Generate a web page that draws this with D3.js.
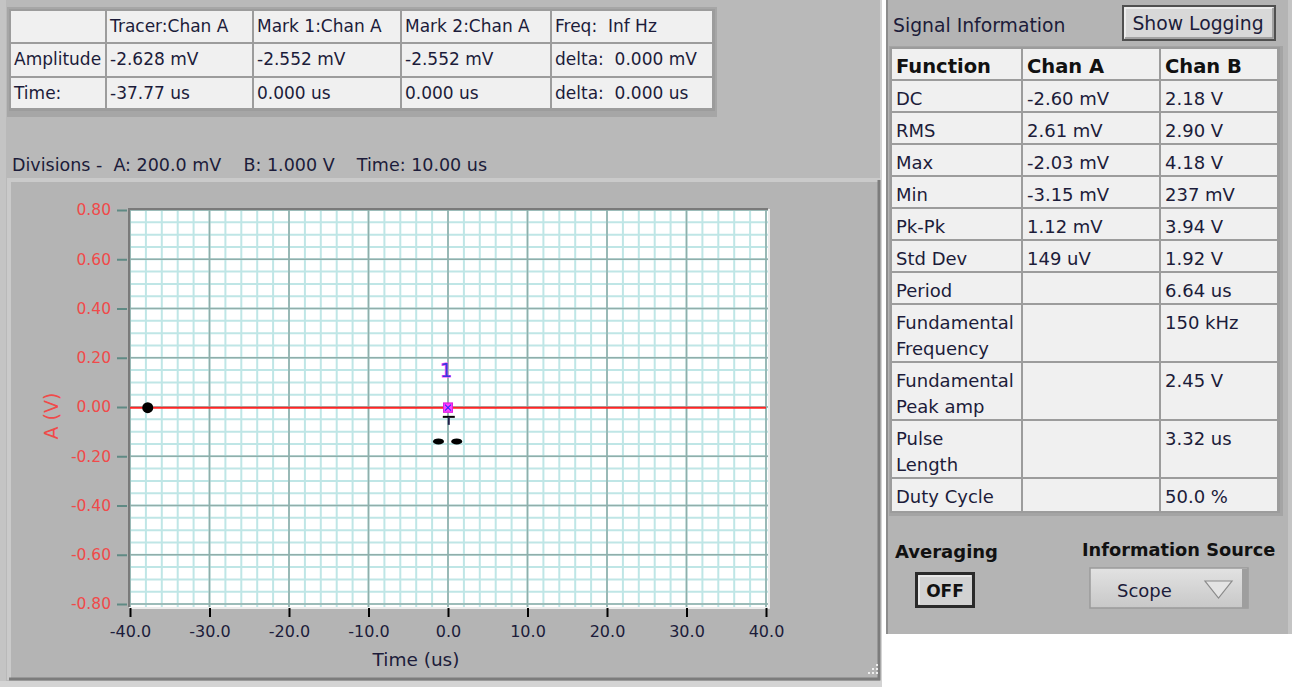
<!DOCTYPE html>
<html><head><meta charset="utf-8">
<script src="https://cdn.jsdelivr.net/npm/d3@7"></script>
<style>
body{margin:0;background:#fff;overflow:hidden}
svg{display:block}
text{font-family:"DejaVu Sans",Verdana,sans-serif;white-space:pre}
</style>
</head><body>
<svg id="c" width="1292" height="687"></svg>
<script>
// ---------- data ----------
const infoHeaders = ["", "Tracer:Chan A", "Mark 1:Chan A", "Mark 2:Chan A", "Freq:  Inf Hz"];
const infoRowLabels = ["Amplitude", "Time:"];
const infoAmplitude = ["-2.628 mV", "-2.552 mV", "-2.552 mV", "delta:  0.000 mV"];
const infoTime = ["-37.77 us", "0.000 us", "0.000 us", "delta:  0.000 us"];
const divisionsText = "Divisions -  A: 200.0 mV    B: 1.000 V    Time: 10.00 us";

const xTickValues = [-40, -30, -20, -10, 0, 10, 20, 30, 40];
const yTickValues = [-0.8, -0.6, -0.4, -0.2, 0, 0.2, 0.4, 0.6, 0.8];
const xTitle = "Time (us)";
const yTitle = "A (V)";

const chanATime = [-40, 40];
const chanAVolts = [-0.0026, -0.0026];
const tracerTime = [-37.77];
const tracerVolts = [-0.002628];
const markTimes = [0, 0];
const markVolts = [-0.002552, -0.002552];
const markLabelTime = [0];
const markLabelVolts = [0.155];
const crossTime = [0.1];
const crossVolts = [-0.04];
const dashTimes = [-1.2, 1.1];
const dashVolts = [-0.14, -0.14];

const sigFunctions = ["DC", "RMS", "Max", "Min", "Pk-Pk", "Std Dev", "Period", "Fundamental\nFrequency", "Fundamental\nPeak amp", "Pulse\nLength", "Duty Cycle"];
const sigChanA = ["-2.60 mV", "2.61 mV", "-2.03 mV", "-3.15 mV", "1.12 mV", "149 uV", "", "", "", "", ""];
const sigChanB = ["2.18 V", "2.90 V", "4.18 V", "237 mV", "3.94 V", "1.92 V", "6.64 us", "150 kHz", "2.45 V", "3.32 us", "50.0 %"];
const sigHeaders = ["Function", "Chan A", "Chan B"];

// ---------- drawing ----------
const svg = d3.select("#c");
const TXT = "#1c1c3a";
const loc = d3.formatLocale({decimal: ".", thousands: ",", grouping: [3], currency: ["", ""], minus: "-"});

// backgrounds
svg.append("rect").attr("x", 0).attr("y", 0).attr("width", 882).attr("height", 687).attr("fill", "#d4d4d4");
svg.append("rect").attr("x", 0).attr("y", 0).attr("width", 880).attr("height", 681).attr("fill", "#b9b9b9");
svg.append("rect").attr("x", 0).attr("y", 0).attr("width", 6).attr("height", 681).attr("fill", "#c4c4c4");

// top info table
const infoCols = [10, 106, 253, 401, 551, 713];
const infoRows = [10, 43, 77, 109];
svg.append("rect").attr("x", 7).attr("y", 7).attr("width", 710).attr("height", 110).attr("fill", "#a6a6a6");
svg.append("rect").attr("x", 9).attr("y", 9).attr("width", 706).attr("height", 102).attr("fill", "#9c9c9c");
const infoTable = [infoHeaders, [infoRowLabels[0]].concat(infoAmplitude), [infoRowLabels[1]].concat(infoTime)];
infoTable.forEach((row, r) => {
  row.forEach((cell, c) => {
    const x0 = infoCols[c], x1 = infoCols[c + 1], y0 = infoRows[r], y1 = infoRows[r + 1];
    svg.append("rect").attr("x", x0 + 1).attr("y", y0 + 1).attr("width", x1 - x0 - 2).attr("height", y1 - y0 - 2)
      .attr("fill", "#f0f0f0");
    svg.append("text").attr("x", x0 + 4).attr("y", y0 + 22).attr("font-size", 17).attr("fill", TXT).text(cell);
  });
});

// divisions line
svg.append("text").attr("x", 12).attr("y", 171).attr("font-size", 17.5).attr("fill", TXT).text(divisionsText);

// graph frame
const fx0 = 9, fy0 = 180, fx1 = 880, fy1 = 680;
svg.append("rect").attr("x", fx0).attr("y", fy0).attr("width", fx1 - fx0).attr("height", fy1 - fy0).attr("fill", "#b4b4b4");
svg.append("path").attr("d", `M${fx0},${fy1}V${fy0}H${fx1}`).attr("stroke", "#cacaca").attr("stroke-width", 4).attr("fill", "none");
svg.append("path").attr("d", `M${fx0},${fy1 - 1}H${fx1 - 1}V${fy0}`).attr("stroke", "#7c7c7c").attr("stroke-width", 3).attr("fill", "none");

// plot
const pL = 129, pR = 768, pT = 209, pB = 607;
const x = d3.scaleLinear().domain([-40, 40]).range([130, 766]);
const y = d3.scaleLinear().domain([-0.8, 0.8]).range([604, 210]);

svg.append("rect").attr("x", pL).attr("y", pT).attr("width", pR - pL).attr("height", pB - pT).attr("fill", "#ffffff");
const grid = svg.append("g");
const xMinor = d3.range(-40, 40.001, 2);
const yMinor = d3.range(-0.8, 0.8001, 0.05);
grid.selectAll(".xm").data(xMinor).join("line")
  .attr("x1", d => x(d)).attr("x2", d => x(d)).attr("y1", pT).attr("y2", pB)
  .attr("stroke", "#bfe6e6").attr("stroke-width", 2);
grid.selectAll(".ym").data(yMinor).join("line")
  .attr("y1", d => y(d)).attr("y2", d => y(d)).attr("x1", pL).attr("x2", pR)
  .attr("stroke", "#bfe6e6").attr("stroke-width", 2);
grid.selectAll(".xM").data(xTickValues).join("line")
  .attr("x1", d => x(d)).attr("x2", d => x(d)).attr("y1", pT).attr("y2", pB)
  .attr("stroke", "#90aeaa").attr("stroke-width", 1.6);
grid.selectAll(".yM").data(yTickValues).join("line")
  .attr("y1", d => y(d)).attr("y2", d => y(d)).attr("x1", pL).attr("x2", pR)
  .attr("stroke", "#90aeaa").attr("stroke-width", 1.6);
// plot border (sunken)
svg.append("path").attr("d", `M${pL},${pB}V${pT}H${pR}`).attr("stroke", "#7a7a7a").attr("stroke-width", 2).attr("fill", "none");
svg.append("path").attr("d", `M${pL},${pB + 1}H${pR + 1}V${pT}`).attr("stroke", "#ffffff").attr("stroke-width", 1.5).attr("fill", "none");

// Chan A trace
const line = d3.line().x((d, i) => x(chanATime[i])).y(d => y(d));
svg.append("path").datum(chanAVolts).attr("d", line).attr("stroke", "#ff2424").attr("stroke-width", 2).attr("fill", "none");

// tracer
svg.selectAll(".tr").data(tracerTime).join("circle")
  .attr("cx", d => x(d)).attr("cy", (d, i) => y(tracerVolts[i])).attr("r", 5.5).attr("fill", "#000");

// black dashes
svg.selectAll(".dash").data(dashTimes).join("ellipse")
  .attr("cx", d => x(d)).attr("cy", (d, i) => y(dashVolts[i])).attr("rx", 5.5).attr("ry", 3).attr("fill", "#000");

// cross glyph
crossTime.forEach((t, i) => {
  const cx = x(t), cy = y(crossVolts[i]);
  svg.append("line").attr("x1", cx - 6).attr("x2", cx + 6).attr("y1", cy).attr("y2", cy).attr("stroke", "#000").attr("stroke-width", 2);
  svg.append("line").attr("x1", cx).attr("x2", cx).attr("y1", cy).attr("y2", cy + 8).attr("stroke", "#20204a").attr("stroke-width", 2);
});

// marks (square with x)
markTimes.forEach((t, i) => {
  const cx = x(t), cy = y(markVolts[i]);
  svg.append("rect").attr("x", cx - 4.5).attr("y", cy - 4.5).attr("width", 9).attr("height", 9)
    .attr("fill", "#ff40ff").attr("stroke", "#e020e0").attr("stroke-width", 1);
  svg.append("path").attr("d", `M${cx - 3},${cy - 3}L${cx + 3},${cy + 3}M${cx + 3},${cy - 3}L${cx - 3},${cy + 3}`)
    .attr("stroke", "#3030ff").attr("stroke-width", 1.2);
});
// mark label
svg.selectAll(".ml").data(markLabelTime).join("text")
  .attr("x", d => x(d) - 2).attr("y", (d, i) => y(markLabelVolts[i]) + 8)
  .attr("text-anchor", "middle").attr("font-size", 19).attr("font-family", "Liberation Serif")
  .attr("fill", "#3a3ae0").attr("stroke", "#ff40ff").attr("stroke-width", 1).attr("paint-order", "stroke").text("1");

// axes
const yAxis = d3.axisLeft(y).tickValues(yTickValues).tickFormat(loc.format(".2f")).tickSize(10).tickPadding(6);
const gy = svg.append("g").attr("transform", `translate(127,0)`).call(yAxis);
gy.select(".domain").remove();
gy.selectAll(".tick line").attr("stroke", "#5f8a84").attr("stroke-width", 2);
gy.selectAll(".tick text").attr("fill", "#f04a4a").attr("font-size", 15.5).attr("font-family", "DejaVu Sans");

const xAxis = d3.axisBottom(x).tickValues(xTickValues).tickFormat(loc.format(".1f")).tickSize(9).tickPadding(9);
const gx = svg.append("g").attr("transform", `translate(0,${pB + 1})`).call(xAxis);
gx.select(".domain").remove();
gx.selectAll(".tick line").attr("stroke", "#000").attr("stroke-width", 2);
gx.selectAll(".tick text").attr("fill", TXT).attr("font-size", 16).attr("font-family", "DejaVu Sans");

svg.append("text").attr("transform", "translate(58,416) rotate(-90)").attr("text-anchor", "middle")
  .attr("font-size", 19).attr("fill", "#f04a4a").text(yTitle);
svg.append("text").attr("x", 416).attr("y", 666).attr("text-anchor", "middle")
  .attr("font-size", 18.5).attr("fill", TXT).text(xTitle);

// resize grip
[[876, 664], [872, 668], [876, 668], [868, 672], [872, 672], [876, 672]].forEach(p =>
  svg.append("rect").attr("x", p[0]).attr("y", p[1]).attr("width", 2).attr("height", 2).attr("fill", "#eeeeee"));

// ---------- right panel ----------
svg.append("rect").attr("x", 886).attr("y", 0).attr("width", 406).attr("height", 634).attr("fill", "#b4b4b4");
svg.append("rect").attr("x", 886).attr("y", 0).attr("width", 2).attr("height", 634).attr("fill", "#8c8c8c");
svg.append("rect").attr("x", 1288).attr("y", 0).attr("width", 4).attr("height", 634).attr("fill", "#c4c4c4");

svg.append("text").attr("x", 893).attr("y", 32).attr("font-size", 18.8).attr("fill", TXT).text("Signal Information");

// Show Logging button
svg.append("rect").attr("x", 1122).attr("y", 5).attr("width", 154).attr("height", 36).attr("fill", "#505050");
svg.append("rect").attr("x", 1124).attr("y", 7).attr("width", 150).attr("height", 32).attr("fill", "#d8d8d8");
svg.append("path").attr("d", "M1125,38V8H1273").attr("stroke", "#f4f4f4").attr("stroke-width", 1.5).attr("fill", "none");
svg.append("path").attr("d", "M1125,38H1273V8").attr("stroke", "#909090").attr("stroke-width", 1.5).attr("fill", "none");
svg.append("text").attr("x", 1198).attr("y", 30).attr("text-anchor", "middle").attr("font-size", 18.8).attr("fill", TXT).text("Show Logging");

// signal table
const sCols = [891, 1022, 1160, 1278];
const sRowsTop = [48, 80, 112, 144, 176, 208, 240, 272, 304, 362, 420, 478, 512];
svg.append("rect").attr("x", 889).attr("y", 46).attr("width", 394).attr("height", 470).attr("fill", "#a4a4a4");
svg.append("rect").attr("x", 890).attr("y", 47).attr("width", 390).attr("height", 466).attr("fill", "#9c9c9c");
const sigTable = [sigHeaders].concat(sigFunctions.map((f, i) => [f, sigChanA[i], sigChanB[i]]));
sigTable.forEach((row, r) => {
  row.forEach((cell, c) => {
    const x0 = sCols[c], x1 = sCols[c + 1], y0 = sRowsTop[r], y1 = sRowsTop[r + 1];
    svg.append("rect").attr("x", x0 + 1).attr("y", y0 + 1).attr("width", x1 - x0 - 2).attr("height", y1 - y0 - 2).attr("fill", "#f0f0f0");
    const t = svg.append("text").attr("x", x0 + 5).attr("y", y0 + 25).attr("font-size", r === 0 ? 19.5 : 18)
      .attr("font-weight", r === 0 ? "bold" : "normal").attr("fill", r === 0 ? "#111" : TXT);
    cell.split("\n").forEach((ln, k) => t.append("tspan").attr("x", x0 + 5).attr("dy", k === 0 ? 0 : 26).text(ln));
  });
});

// Averaging
svg.append("text").attr("x", 895).attr("y", 558).attr("font-size", 18).attr("font-weight", "bold").attr("fill", "#111").text("Averaging");
svg.append("rect").attr("x", 915).attr("y", 572).attr("width", 60).attr("height", 36).attr("fill", "#2a2a2a");
svg.append("rect").attr("x", 918).attr("y", 575).attr("width", 54).attr("height", 30).attr("fill", "#d2d2d2");
svg.append("path").attr("d", "M919,604V576H971").attr("stroke", "#f0f0f0").attr("stroke-width", 1.5).attr("fill", "none");
svg.append("text").attr("x", 945).attr("y", 597).attr("text-anchor", "middle").attr("font-size", 17).attr("font-weight", "bold").attr("fill", "#111").text("OFF");

// Information Source
svg.append("text").attr("x", 1082).attr("y", 556).attr("font-size", 17.8).attr("font-weight", "bold").attr("fill", "#111").text("Information Source");
const grad = svg.append("defs").append("linearGradient").attr("id", "dd").attr("x1", 0).attr("x2", 0).attr("y1", 0).attr("y2", 1);
grad.append("stop").attr("offset", 0).attr("stop-color", "#e2e2e2");
grad.append("stop").attr("offset", 1).attr("stop-color", "#c8c8c8");
svg.append("rect").attr("x", 1090).attr("y", 568).attr("width", 158).attr("height", 40).attr("fill", "url(#dd)").attr("stroke", "#9a9a9a").attr("stroke-width", 1.5);
svg.append("rect").attr("x", 1242).attr("y", 569).attr("width", 6).attr("height", 39).attr("fill", "#9e9e9e");
svg.append("text").attr("x", 1117).attr("y", 597).attr("font-size", 18).attr("fill", TXT).text("Scope");
svg.append("path").attr("d", "M1205,581H1232L1218.5,598Z").attr("fill", "#e4e4e4").attr("stroke", "#8a8a8a").attr("stroke-width", 1.2);
</script>
</body></html>
